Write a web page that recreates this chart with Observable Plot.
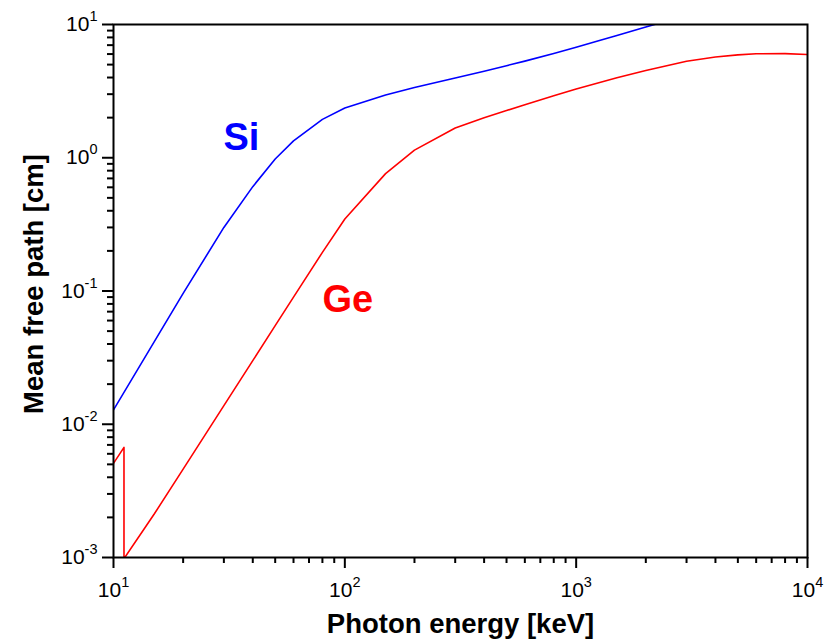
<!DOCTYPE html>
<html>
<head>
<meta charset="utf-8">
<script src="https://cdn.jsdelivr.net/npm/d3@7"></script>
<script src="https://cdn.jsdelivr.net/npm/@observablehq/plot@0.6"></script>
<style>
  html, body { margin: 0; padding: 0; background: #ffffff; }
</style>
</head>
<body>
<div id="chart"></div>
<script>
// Silicon: mean free path [cm] vs photon energy [keV]
const siEnergy = [10, 20, 30, 40, 50, 60, 80, 100, 150, 200, 300, 400, 500, 600, 800, 1000, 1250, 1500, 2000, 3000];
const siPath   = [0.0128, 0.096, 0.300, 0.607, 0.978, 1.34, 1.94, 2.36, 2.96, 3.37, 3.97, 4.46, 4.91, 5.31, 6.06, 6.75, 7.55, 8.28, 9.58, 11.7];

// Germanium: mean free path [cm] vs photon energy [keV] (K edge at 11.1 keV)
const geEnergy = [10, 11.1, 11.1, 15, 20, 30, 40, 50, 60, 80, 100, 150, 200, 300, 400, 500, 600, 800, 1000, 1500, 2000, 3000, 4000, 5000, 6000, 8000, 10000];
const gePath   = [0.00509, 0.0067, 0.00098, 0.00212, 0.0046, 0.0138, 0.030, 0.055, 0.090, 0.195, 0.347, 0.76, 1.14, 1.67, 2.00, 2.26, 2.50, 2.92, 3.28, 3.98, 4.51, 5.30, 5.70, 5.92, 6.03, 6.05, 5.95];

// Curve labels
const labelNames    = ["Si", "Ge"];
const labelEnergies = [35.7, 103];
const labelPaths    = [1.40, 0.0855];
const labelColors   = ["#0000ff", "#ff0000"];

// Ticks
const xMajor = [10, 100, 1000, 10000];
const xMajorExp = ["1", "2", "3", "4"];
const xMinor = [20, 30, 40, 50, 60, 70, 80, 90, 200, 300, 400, 500, 600, 700, 800, 900, 2000, 3000, 4000, 5000, 6000, 7000, 8000, 9000];
const yMajor = [0.001, 0.01, 0.1, 1, 10];
const yMajorExp = ["-3", "-2", "-1", "0", "1"];
const yMinor = [0.002, 0.003, 0.004, 0.005, 0.006, 0.007, 0.008, 0.009,
                0.02, 0.03, 0.04, 0.05, 0.06, 0.07, 0.08, 0.09,
                0.2, 0.3, 0.4, 0.5, 0.6, 0.7, 0.8, 0.9,
                2, 3, 4, 5, 6, 7, 8, 9];

const xTitle = "Photon energy [keV]";
const yTitle = "Mean free path [cm]";

const si = siEnergy.map((e, i) => ({energy: e, path: siPath[i]}));
const ge = geEnergy.map((e, i) => ({energy: e, path: gePath[i]}));
const labels = labelNames.map((n, i) => ({name: n, energy: labelEnergies[i], path: labelPaths[i], color: labelColors[i]}));

const W = 838, H = 643, ML = 113, MR = 31, MT = 24, MB = 86;
const FW = W - ML - MR, FH = H - MT - MB;

const chart = Plot.plot({
  width: W,
  height: H,
  marginLeft: ML,
  marginRight: MR,
  marginTop: MT,
  marginBottom: MB,
  style: {fontFamily: "'Liberation Sans', Arial, Helvetica, sans-serif", fontSize: "21px", background: "#ffffff", color: "#000000"},
  x: {type: "log", domain: [10, 10000]},
  y: {type: "log", domain: [0.001, 10]},
  marks: [
    Plot.line(si, {x: "energy", y: "path", stroke: "#0000ff", strokeWidth: 1.6, clip: true}),
    Plot.line(ge, {x: "energy", y: "path", stroke: "#ff0000", strokeWidth: 1.6, clip: true}),
    // outward tick marks
    Plot.ruleX(xMinor, {x: d => d, insetTop: FH, insetBottom: -6, stroke: "#000", strokeWidth: 2}),
    Plot.ruleX(xMajor, {x: d => d, insetTop: FH, insetBottom: -11, stroke: "#000", strokeWidth: 2}),
    Plot.ruleY(yMinor, {y: d => d, insetRight: FW, insetLeft: -6, stroke: "#000", strokeWidth: 2}),
    Plot.ruleY(yMajor, {y: d => d, insetRight: FW, insetLeft: -11, stroke: "#000", strokeWidth: 2}),
    // tick labels
    Plot.axisX({ticks: xMajor, tickSize: 0, tickPadding: 25, fontSize: 21, label: null,
                tickFormat: d => "10^" + xMajorExp[xMajor.indexOf(d)]}),
    Plot.axisY({ticks: yMajor, tickSize: 0, tickPadding: 16, fontSize: 21, label: null,
                tickFormat: d => "10^" + yMajorExp[yMajor.indexOf(d)]}),
    Plot.frame({stroke: "#000", strokeWidth: 2}),
    Plot.text(labels, {x: "energy", y: "path", text: "name", fill: "color", fontSize: 38, fontWeight: "bold"}),
    Plot.text([xTitle], {frameAnchor: "bottom", textAnchor: "middle", lineAnchor: "middle", dy: 67,
                         text: d => d, fontSize: 27.5, fontWeight: "bold"}),
    Plot.text([yTitle], {frameAnchor: "left", textAnchor: "middle", lineAnchor: "middle", dx: -79, dy: -7, rotate: -90,
                         text: d => d, fontSize: 27.5, fontWeight: "bold"})
  ]
});

// Render "10^n" tick labels with superscript exponents
const ns = "http://www.w3.org/2000/svg";
chart.querySelectorAll('g[aria-label$="tick label"] text').forEach(t => {
  const s = t.textContent;
  if (!s.includes("^")) return;
  const [base, exp] = s.split("^");
  t.textContent = "";
  const t1 = document.createElementNS(ns, "tspan");
  t1.textContent = base;
  const t2 = document.createElementNS(ns, "tspan");
  t2.setAttribute("dy", "-10");
  t2.setAttribute("font-size", "14.5");
  t2.textContent = exp;
  t.appendChild(t1);
  t.appendChild(t2);
});

document.getElementById("chart").appendChild(chart);
</script>
</body>
</html>
